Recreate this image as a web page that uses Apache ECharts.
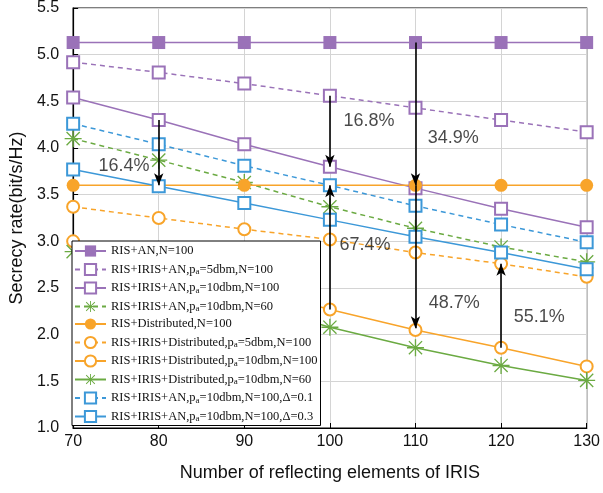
<!DOCTYPE html>
<html>
<head>
<meta charset="utf-8">
<script src="https://cdn.jsdelivr.net/npm/echarts@6/dist/echarts.min.js"></script>
<style>html,body{margin:0;padding:0;background:#fff}#c{width:603px;height:493px}</style>
</head>
<body>
<div id="c"></div>
<script>
// ---- data ----
var xValues = [70, 80, 90, 100, 110, 120, 130];
var seriesNames = [
  'RIS+AN,N=100',
  'RIS+IRIS+AN,p_a=5dbm,N=100',
  'RIS+IRIS+AN,p_a=10dbm,N=100',
  'RIS+IRIS+AN,p_a=10dbm,N=60',
  'RIS+Distributed,N=100',
  'RIS+IRIS+Distributed,p_a=5dbm,N=100',
  'RIS+IRIS+Distributed,p_a=10dbm,N=100',
  'RIS+IRIS+Distributed,p_a=10dbm,N=60',
  'RIS+IRIS+AN,p_a=10dbm,N=100,Δ=0.1',
  'RIS+IRIS+AN,p_a=10dbm,N=100,Δ=0.3'
];
var risAN          = [5.13, 5.13, 5.13, 5.13, 5.13, 5.13, 5.13];
var irisAN5        = [4.92, 4.81, 4.69, 4.56, 4.43, 4.30, 4.17];
var irisAN10       = [4.54, 4.30, 4.04, 3.80, 3.57, 3.35, 3.15];
var irisAN10N60    = [4.10, 3.87, 3.63, 3.37, 3.14, 2.94, 2.78];
var risDist        = [3.60, 3.60, 3.60, 3.60, 3.60, 3.60, 3.60];
var irisDist5      = [3.37, 3.25, 3.13, 3.02, 2.88, 2.76, 2.62];
var irisDist10     = [3.00, 2.76, 2.51, 2.27, 2.05, 1.86, 1.66];
var irisDist10N60  = [2.89, 2.62, 2.35, 2.08, 1.86, 1.67, 1.51];
var irisANd01      = [4.26, 4.04, 3.81, 3.60, 3.38, 3.18, 2.99];
var irisANd03      = [3.77, 3.59, 3.41, 3.23, 3.05, 2.88, 2.70];
var yTicks = {min: 1.0, max: 5.5, interval: 0.5};
var xTicks = {min: 70, max: 130, interval: 10};
// annotation arrows: [x, yFrom, yTo]
var arrows = [
  [80, 4.30, 3.60],
  [100, 4.56, 3.80],
  [100, 2.27, 3.60],
  [110, 5.13, 3.60],
  [110, 3.60, 2.07],
  [120, 1.86, 2.76]
];
// annotation texts: [x, y, text]
var notes = [
  [75.94, 3.81, '16.4%'],
  [104.56, 4.29, '16.8%'],
  [114.42, 4.11, '34.9%'],
  [104.10, 2.96, '67.4%'],
  [114.54, 2.34, '48.7%'],
  [124.46, 2.19, '55.1%']
];

// ---- style ----
var PURPLE = '#9A72B8', ORANGE = '#F8A42A', GREEN = '#6BAA42', BLUE = '#3C98D8';
var STAR = 'path://M9.2 0L10.8 0L10.8 20L9.2 20Z M0 9.2L20 9.2L20 10.8L0 10.8Z M1.7 2.8L2.8 1.7L18.3 17.2L17.2 18.3Z M17.2 1.7L18.3 2.8L2.8 18.3L1.7 17.2Z';
var specs = [
  {d: risAN,         c: PURPLE, dash: false, sym: 'rect',   fill: true,  size: 13},
  {d: irisAN5,       c: PURPLE, dash: true,  sym: 'rect',   fill: false, size: 12},
  {d: irisAN10,      c: PURPLE, dash: false, sym: 'rect',   fill: false, size: 12},
  {d: irisAN10N60,   c: GREEN,  dash: true,  sym: STAR,     fill: true,  size: 17},
  {d: risDist,       c: ORANGE, dash: false, sym: 'circle', fill: true,  size: 13},
  {d: irisDist5,     c: ORANGE, dash: true,  sym: 'circle', fill: false, size: 12},
  {d: irisDist10,    c: ORANGE, dash: false, sym: 'circle', fill: false, size: 12},
  {d: irisDist10N60, c: GREEN,  dash: false, sym: STAR,     fill: true,  size: 17},
  {d: irisANd01,     c: BLUE,   dash: true,  sym: 'rect',   fill: false, size: 12},
  {d: irisANd03,     c: BLUE,   dash: false, sym: 'rect',   fill: false, size: 12}
];

var series = specs.map(function (s, i) {
  return {
    name: seriesNames[i],
    type: 'line',
    data: s.d.map(function (v, k) { return [xValues[k], v]; }),
    symbol: s.sym,
    symbolSize: s.size,
    showAllSymbol: true,
    lineStyle: {color: s.c, width: 1.5, type: s.dash ? [5, 4] : 'solid'},
    itemStyle: {color: s.fill ? s.c : '#ffffff', borderColor: s.c, borderWidth: s.fill ? 0 : 2},
    emphasis: {disabled: true},
    animation: false,
    z: 2
  };
});

series.push({
  name: 'arrows',
  type: 'line',
  data: [],
  animation: false,
  markLine: {
    silent: true,
    animation: false,
    symbol: ['none', 'arrow'],
    symbolSize: [7, 12],
    label: {show: false},
    lineStyle: {color: '#000', width: 1.6, type: 'solid'},
    data: arrows.map(function (a) {
      return [{coord: [a[0], a[1]]}, {coord: [a[0], a[2]]}];
    })
  },
  z: 3
});

series.push({
  name: 'notes',
  type: 'scatter',
  symbolSize: 0,
  animation: false,
  data: notes.map(function (n) { return {value: [n[0], n[1]], label: {formatter: n[2]}}; }),
  label: {show: true, position: 'inside', color: '#1a1a1a', fontSize: 18, fontFamily: 'Liberation Sans'},
  z: 4
});

var chart = echarts.init(document.getElementById('c'), null, {renderer: 'canvas'});
chart.setOption({
  animation: false,
  backgroundColor: '#fff',
  grid: {left: 68, right: 15, top: 8, bottom: 65, show: true, borderColor: '#000', borderWidth: 1.2, backgroundColor: 'transparent'},
  xAxis: {
    type: 'value', min: xTicks.min, max: xTicks.max, interval: xTicks.interval,
    name: 'Number of reflecting elements of IRIS', nameLocation: 'middle', nameGap: 36,
    nameTextStyle: {fontSize: 18, color: '#111', fontFamily: 'Liberation Sans'},
    axisLine: {lineStyle: {color: '#000', width: 1.2}},
    axisTick: {inside: true, length: 5, lineStyle: {color: '#000'}},
    axisLabel: {fontSize: 16, color: '#111', fontFamily: 'Liberation Sans', margin: 6},
    splitLine: {show: true, lineStyle: {color: '#d4d4d4', width: 1}}
  },
  yAxis: {
    type: 'value', min: yTicks.min, max: yTicks.max, interval: yTicks.interval,
    name: 'Secrecy rate(bit/s/Hz)', nameLocation: 'middle', nameGap: 44,
    nameTextStyle: {fontSize: 18, color: '#111', fontFamily: 'Liberation Sans'},
    axisLine: {lineStyle: {color: '#000', width: 1.2}},
    axisTick: {inside: true, length: 5, lineStyle: {color: '#000'}},
    axisLabel: {fontSize: 16, color: '#111', fontFamily: 'Liberation Sans', margin: 14,
      formatter: function (v) { return v.toFixed(1); }},
    splitLine: {show: true, lineStyle: {color: '#d4d4d4', width: 1}}
  },
  legend: {
    data: seriesNames,
    orient: 'vertical',
    left: 72, top: 241,
    padding: [3, 3, 2, 2],
    itemGap: 3.5,
    itemWidth: 31, itemHeight: 14,
    backgroundColor: '#fff',
    borderColor: '#000', borderWidth: 1,
    textStyle: {fontFamily: 'Liberation Serif', fontSize: 12.5, lineHeight: 14, color: '#111',
      rich: {sub: {fontFamily: 'Liberation Serif', fontSize: 9, lineHeight: 14, color: '#111', verticalAlign: 'bottom', padding: [6, 0, 0, 0]}}},
    formatter: function (n) { return n.replace('p_a', 'p{sub|a}'); },
    selectedMode: false,
    z: 10
  },
  series: series
});
</script>
</body>
</html>
